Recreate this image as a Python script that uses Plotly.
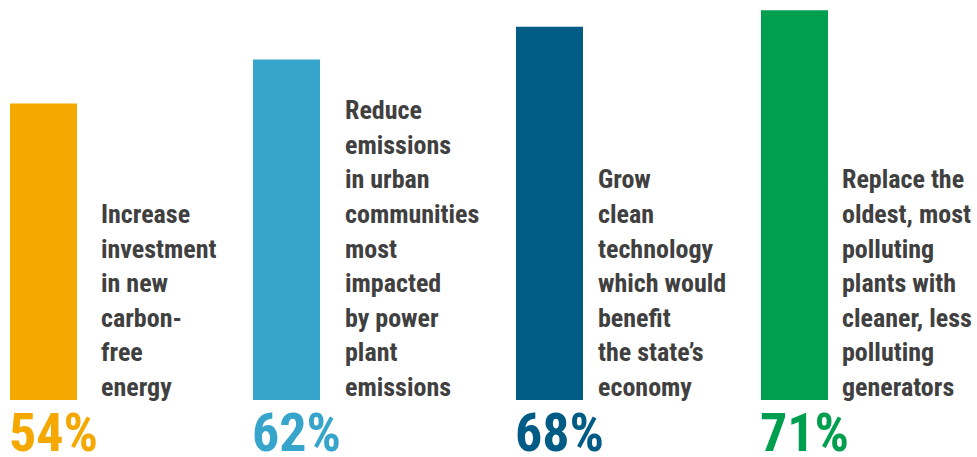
import plotly.graph_objects as go

# ---- data ----
categories = [
    "Increase investment in new carbon-free energy",
    "Reduce emissions in urban communities most impacted by power plant emissions",
    "Grow clean technology which would benefit the state’s economy",
    "Replace the oldest, most polluting plants with cleaner, less polluting generators",
]
values = [54, 62, 68, 71]
label_lines = [
    ["Increase", "investment", "in new", "carbon-", "free", "energy"],
    ["Reduce", "emissions", "in urban", "communities", "most", "impacted", "by power", "plant", "emissions"],
    ["Grow", "clean", "technology", "which would", "benefit", "the state’s", "economy"],
    ["Replace the", "oldest, most", "polluting", "plants with", "cleaner, less", "polluting", "generators"],
]

# ---- layout / style ----
W, H = 977, 457
colors = ["#F5A800", "#37A5CB", "#005C84", "#009E4F"]
text_color = "#404040"
bar_left = [10, 253, 516, 761]
bar_width = 67
label_left = [102, 346, 599, 843]
px_per_unit = 5.49
baseline_px = 400
y_min = -(H - baseline_px) / px_per_unit
y_max = baseline_px / px_per_unit
line_step = 34.6 / px_per_unit
last_line_y = 13 / px_per_unit
pct_y = -32 / px_per_unit
font_family = "Roboto Condensed, Roboto, sans-serif"

fig = go.Figure()
fig.add_trace(go.Bar(
    x=[l + bar_width / 2 for l in bar_left],
    y=values,
    width=bar_width,
    marker=dict(color=colors, line=dict(width=0)),
    hovertext=categories,
    hoverinfo="text+y",
))

annotations = []
for i, v in enumerate(values):
    annotations.append(dict(
        x=bar_left[i] - 3, y=pct_y, xref="x", yref="y",
        text=f"{v}%", showarrow=False, xanchor="left", yanchor="middle",
        font=dict(family=font_family, size=54, color=colors[i], weight="bold"),
    ))
    lines = label_lines[i]
    n = len(lines)
    for j, line in enumerate(lines):
        annotations.append(dict(
            x=label_left[i] - 3, y=last_line_y + (n - 1 - j) * line_step,
            xref="x", yref="y", text=line, showarrow=False,
            xanchor="left", yanchor="middle",
            font=dict(family=font_family, size=26, color=text_color, weight="bold"),
        ))

fig.update_layout(
    width=W, height=H,
    margin=dict(l=0, r=0, t=0, b=0),
    paper_bgcolor="white", plot_bgcolor="white",
    showlegend=False,
    xaxis=dict(range=[0, W], visible=False, fixedrange=True),
    yaxis=dict(range=[y_min, y_max], visible=False, fixedrange=True),
    annotations=annotations,
)

fig.write_html("out.html", config={"displayModeBar": False},
               post_script="document.body.style.margin='0';")
